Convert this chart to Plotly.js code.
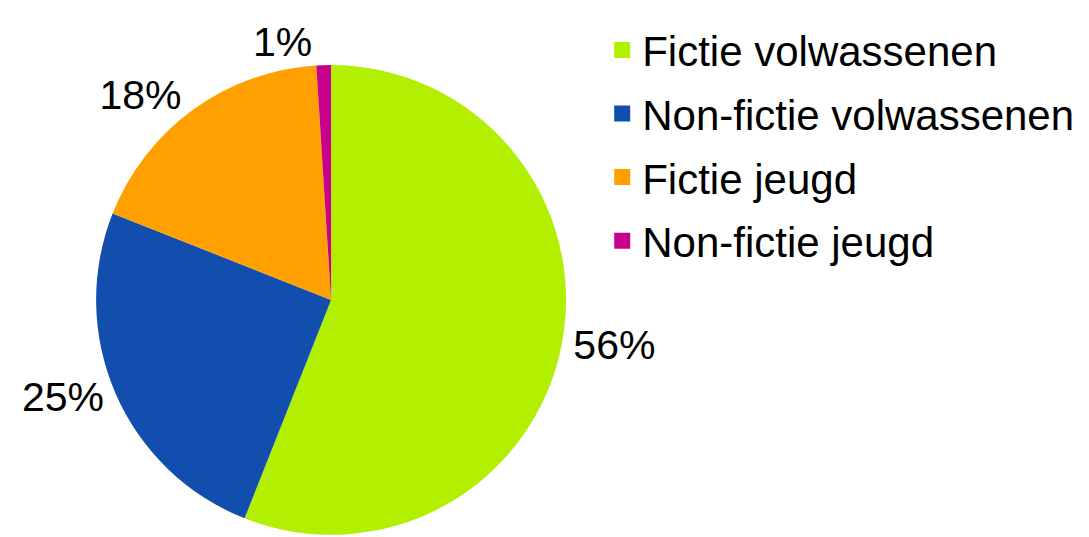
<!DOCTYPE html>
<html>
<head>
<meta charset="utf-8">
<script src="https://cdn.plot.ly/plotly-3.0.1.min.js"></script>
<style>html,body{margin:0;padding:0;background:#fff;}#chart{width:1089px;height:537px;}</style>
</head>
<body>
<div id="chart"></div>
<script>
const categories = ["Fictie volwassenen", "Non-fictie volwassenen", "Fictie jeugd", "Non-fictie jeugd"];
const shares = [56, 25, 18, 1];
const colors = ["#b2ef00", "#114ead", "#ffa000", "#c6008a"];

const pie = {
  type: "pie",
  labels: categories,
  values: shares,
  sort: false,
  direction: "clockwise",
  rotation: 0,
  marker: {colors: colors, line: {width: 0}},
  textinfo: "percent",
  textposition: "outside",
  outsidetextfont: {size: 41, color: "#000", family: "Liberation Sans, Arial, sans-serif"},
  showlegend: false,
  hoverinfo: "label+percent",
  domain: {x: [0.087, 0.521], y: [0.004, 0.879]}
};

const legendTraces = categories.map((c, i) => ({
  type: "scatter",
  mode: "markers",
  x: [null], y: [null],
  name: c,
  legendgroup: "g" + i,
  marker: {symbol: "square", size: 22, color: colors[i]},
  showlegend: true,
  hoverinfo: "skip"
}));

const layout = {
  width: 1089, height: 537,
  margin: {l: 0, r: 0, t: 0, b: 0},
  paper_bgcolor: "#fff",
  plot_bgcolor: "#fff",
  font: {family: "Liberation Sans, Arial, sans-serif", size: 42, color: "#000"},
  xaxis: {visible: false, domain: [0.6, 0.61]},
  yaxis: {visible: false},
  showlegend: true,
  legend: {
    x: 0.553, y: 0.97, xanchor: "left", yanchor: "top",
    font: {size: 42, color: "#000"},
    tracegroupgap: 6,
    itemsizing: "trace",
    itemwidth: 30,
    bgcolor: "rgba(0,0,0,0)"
  }
};

Plotly.newPlot("chart", [pie].concat(legendTraces), layout, {displayModeBar: false, staticPlot: true});
</script>
</body>
</html>
